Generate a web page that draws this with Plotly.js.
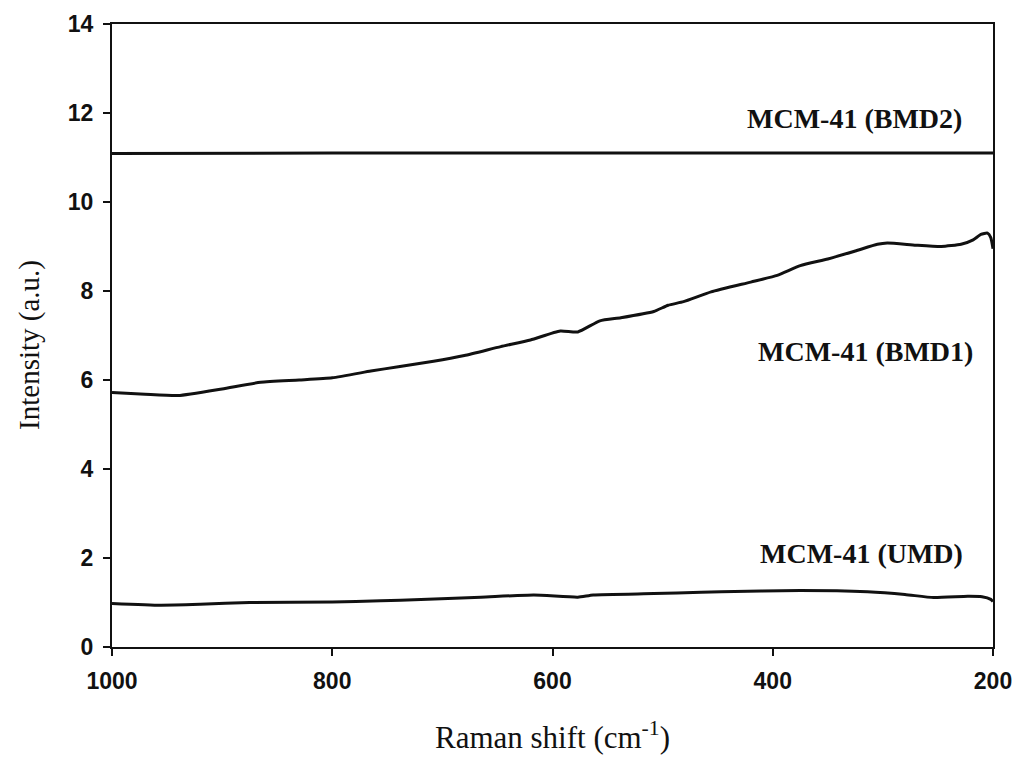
<!DOCTYPE html>
<html>
<head>
<meta charset="utf-8">
<script src="https://cdn.plot.ly/plotly-3.0.1.min.js"></script>
<style>html,body{margin:0;padding:0;background:#fff;}#chart{width:1015px;height:757px;}</style>
</head>
<body>
<div id="chart"></div>
<script>
// Raman shift (cm-1) and intensity (a.u.)
const bmd2Shift = [1000, 800, 600, 400, 200];
const bmd2Value = [11.09, 11.1, 11.1, 11.1, 11.1];

const bmd1Shift = [1000, 970, 940, 900, 865, 830, 800, 765, 740, 708, 680, 647, 620, 593, 577, 557, 538, 508, 495, 481, 456, 420, 396, 375, 350, 325, 305, 296, 270, 247, 229, 218, 211, 205, 202, 200];
const bmd1Value = [5.72, 5.68, 5.65, 5.8, 5.95, 6.0, 6.05, 6.2, 6.3, 6.42, 6.55, 6.75, 6.9, 7.1, 7.08, 7.33, 7.4, 7.54, 7.68, 7.76, 7.98, 8.2, 8.35, 8.57, 8.72, 8.9, 9.05, 9.08, 9.03, 9.0, 9.05, 9.15, 9.27, 9.3, 9.2, 8.95];

const umdShift = [1000, 956, 920, 875, 800, 756, 738, 665, 617, 577, 563, 508, 465, 447, 375, 314, 280, 254, 223, 210, 202, 200];
const umdValue = [0.98, 0.94, 0.96, 1.0, 1.01, 1.04, 1.05, 1.12, 1.17, 1.12, 1.17, 1.2, 1.23, 1.24, 1.27, 1.24, 1.18, 1.11, 1.14, 1.13, 1.07, 1.02];

const seriesLabels = ["MCM-41 (BMD2)", "MCM-41 (BMD1)", "MCM-41 (UMD)"];
const labelX = [326, 316, 319];
const labelY = [11.87, 6.63, 2.11];

const xTicks = [1000, 800, 600, 400, 200];
const yTicks = [0, 2, 4, 6, 8, 10, 12, 14];

const serif = "Liberation Serif, Times New Roman, serif";
const lineStyle = {color: "#111", width: 3, shape: "spline", smoothing: 0.5};

const traces = [
  {x: bmd2Shift, y: bmd2Value, mode: "lines", line: lineStyle, name: seriesLabels[0]},
  {x: bmd1Shift, y: bmd1Value, mode: "lines", line: lineStyle, name: seriesLabels[1]},
  {x: umdShift, y: umdValue, mode: "lines", line: lineStyle, name: seriesLabels[2]}
];

const annotations = seriesLabels.map((t, i) => ({
  x: labelX[i], y: labelY[i], xref: "x", yref: "y", text: t, showarrow: false,
  font: {family: serif, size: 28, color: "#111", weight: "bold"}
}));
annotations.push({
  x: -0.093, y: 0.485, xref: "paper", yref: "paper", text: "Intensity (a.u.)",
  textangle: -90, showarrow: false, xanchor: "center", yanchor: "middle",
  font: {family: serif, size: 29, color: "#111"}
});

const axisCommon = {
  showline: true, linecolor: "#111", linewidth: 2, mirror: true,
  ticks: "outside", ticklen: 7, tickwidth: 2, tickcolor: "#111",
  showgrid: false, zeroline: false,
  tickfont: {family: "Liberation Sans, Arial, sans-serif", size: 23, color: "#111", weight: "bold"}
};

const layout = {
  width: 1015, height: 757,
  margin: {l: 112, r: 22, t: 24, b: 110},
  paper_bgcolor: "#fff", plot_bgcolor: "#fff",
  showlegend: false,
  xaxis: Object.assign({}, axisCommon, {
    range: [1000, 200], tickvals: xTicks, ticktext: xTicks.map(String),
    ticklabelstandoff: 5,
    title: {text: "Raman shift (cm<sup>-1</sup>)", standoff: 34,
      font: {family: serif, size: 31, color: "#111"}}
  }),
  yaxis: Object.assign({}, axisCommon, {
    range: [0, 14], tickvals: yTicks, ticktext: yTicks.map(String),
    ticklabelstandoff: 5
  }),
  annotations: annotations
};

Plotly.newPlot("chart", traces, layout, {displayModeBar: false, staticPlot: true});
</script>
</body>
</html>
